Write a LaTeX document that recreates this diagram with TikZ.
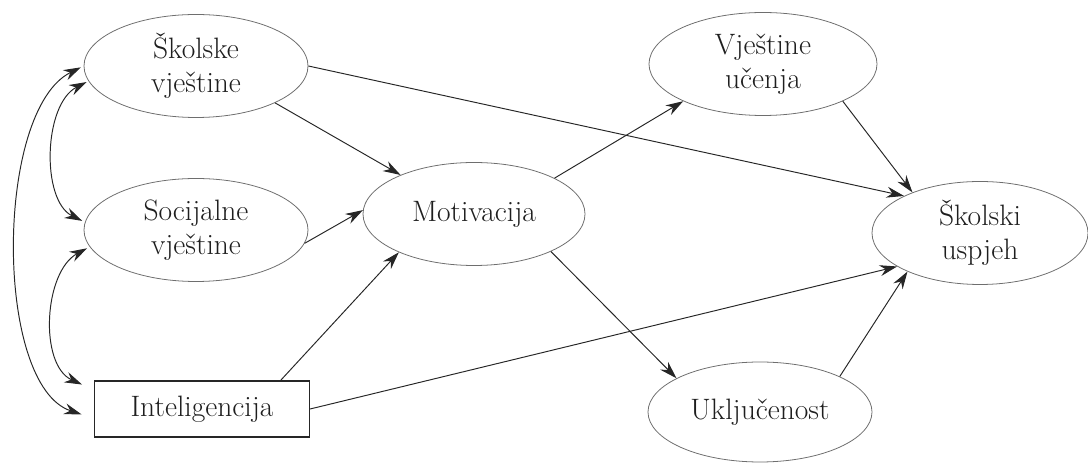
\documentclass[tikz,border=0pt]{standalone}
\usepackage{tikz}
\usetikzlibrary{arrows.meta,shapes.geometric}
\definecolor{inkgray}{HTML}{1E1E1E}
\definecolor{rimgray}{HTML}{6E6E6E}
\tikzset{
  factellipse/.style={ellipse,draw=rimgray,line width=0.45pt,minimum width=44.8mm,minimum height=20.6mm,inner sep=0pt,align=center,text=inkgray,font=\fontsize{16.8}{19.5}\selectfont},
  factbox/.style={rectangle,draw=black!85,line width=0.7pt,minimum width=43mm,minimum height=11.2mm,inner sep=0pt,align=center,text=inkgray,font=\fontsize{16.8}{19.5}\selectfont},
  factflow/.style={-{Stealth[length=3.5mm,width=2.2mm]},line width=0.55pt,draw=black!85},
  factcorr/.style={{Stealth[length=3.5mm,width=2.2mm]}-{Stealth[length=3.5mm,width=2.2mm]},line width=0.55pt,draw=black!85}
}
\begin{document}
\begin{tikzpicture}[x=0.2mm,y=-0.2mm]
  \useasboundingbox (0,0) rectangle (1088,463);
  \node[factellipse] (skolske) at (196,66) {Školske\\vještine};
  \node[factellipse] (socijalne) at (196,230) {Socijalne\\vještine};
  \node[factbox] (intel) at (202,409) {Inteligencija};
  \node[factellipse,minimum width=44.4mm] (motiv) at (474,214) {Motivacija};
  \node[factellipse,minimum width=45.6mm] (ucenje) at (763,64) {Vještine\\učenja};
  \node[factellipse,minimum width=43.2mm] (uspjeh) at (980,233) {Školski\\uspjeh};
  \node[factellipse,minimum width=44.8mm,minimum height=20mm] (ukljuc) at (760,412) {Uključenost};
  % correlations on the left
  \draw[factcorr,shorten <=0.6mm,shorten >=2.6mm] (skolske.180) .. controls +(-89,44) and +(-100,-33) .. (intel.185);
  \draw[factcorr,shorten <=0.4mm,shorten >=0.6mm] (skolske.188) .. controls +(-45,23) and +(-44,-22) .. (socijalne.176);
  \draw[factcorr,shorten <=0.6mm,shorten >=2.6mm] (socijalne.189) .. controls +(-46,25) and +(-55,-25) .. (intel.170);
  % paths
  \draw[factflow] (skolske.-25) -- (motiv.152);
  \draw[factflow] (socijalne.-7) -- (motiv.178);
  \draw[factflow] (intel.20.5) -- (motiv.207);
  \draw[factflow] (skolske.east) -- (uspjeh.154);
  \draw[factflow] (intel.east) -- (uspjeh.202);
  \draw[factflow] (motiv.24) -- (ucenje.205);
  \draw[factflow] (motiv.-26) -- (ukljuc.158);
  \draw[factflow] (ucenje.-25) -- (uspjeh.149);
  \draw[factflow] (ukljuc.24) -- (uspjeh.208);
\end{tikzpicture}
\end{document}
